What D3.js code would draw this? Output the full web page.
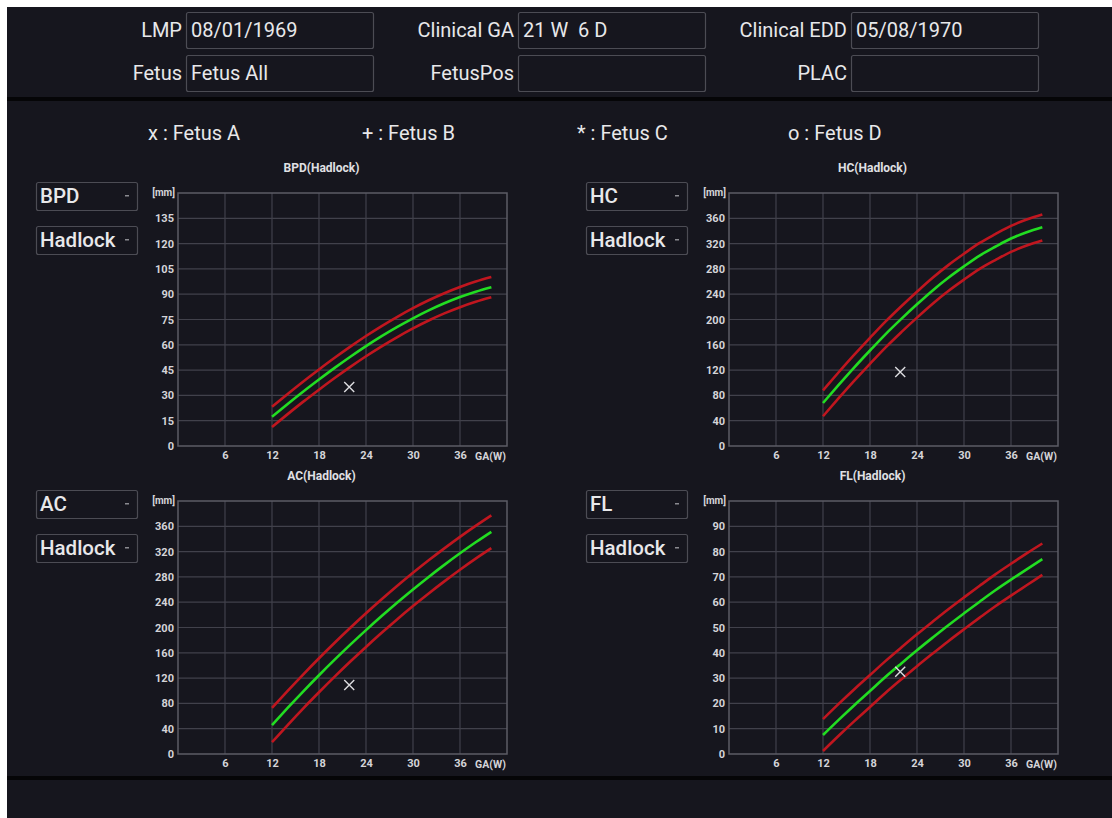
<!DOCTYPE html>
<html><head><meta charset="utf-8">
<script src="https://cdn.jsdelivr.net/npm/d3@7"></script>
<style>
html,body{margin:0;padding:0;background:#fff;}
svg{display:block;font-family:Roboto,"Noto Sans",sans-serif;}
text{white-space:pre;}
</style></head>
<body>
<svg id="c" width="1112" height="818"></svg>
<script>
// ---- data ----
const weeks = [12,14,16,18,20,22,24,26,28,30,32,34,36,38,40];
const bpdMean  = [17.3,24.9,32.3,39.4,46.3,52.9,59.2,65.1,70.6,75.7,80.4,84.6,88.3,91.5,94.2];
const bpdUpper = [23.3,30.9,38.3,45.4,52.3,58.9,65.2,71.1,76.6,81.7,86.4,90.6,94.3,97.5,100.2];
const bpdLower = [11.3,18.9,26.3,33.4,40.3,46.9,53.2,59.1,64.6,69.7,74.4,78.6,82.3,85.5,88.2];
const hcMean   = [68,96.6,124.4,151,177,201,224,246,266,284,301,315,328,338,346];
const hcUpper  = [88,116.6,144.4,171,197,221,244,266,286,304,321,335,348,358,366];
const hcLower  = [47,75.6,103.4,130,156,180,203,225,245,263,280,294,307,317,325];
const acMean   = [45.8,72.8,99.1,124.5,149.1,172.9,195.9,218.1,239.6,260.2,280,299,317.3,334.7,351.3];
const acUpper  = [73,99.8,126,151.4,175.9,199.6,222.5,244.6,266,286.5,306.2,325.1,343.3,360.6,377.2];
const acLower  = [18.6,45.8,72.2,97.6,122.3,146.2,169.3,191.6,213.2,233.9,253.8,272.9,291.3,308.8,325.4];
const flMean   = [7.5,13.5,19.3,24.9,30.5,35.8,41,46,50.9,55.6,60.2,64.7,68.9,73,77];
const flUpper  = [13.8,19.8,25.6,31.2,36.8,42.1,47.3,52.3,57.2,61.9,66.5,71,75.2,79.3,83.2];
const flLower  = [1.2,7.2,13,18.6,24.2,29.5,34.7,39.7,44.6,49.3,53.9,58.4,62.6,66.7,70.8];
const bpdTicks = [0,15,30,45,60,75,90,105,120,135];
const hcTicks  = [0,40,80,120,160,200,240,280,320,360];
const acTicks  = [0,40,80,120,160,200,240,280,320,360];
const flTicks  = [0,10,20,30,40,50,60,70,80,90];
const xTicks   = [6,12,18,24,30,36];
const fetusA_GA = 21.86;
const fetusA = {bpd:35, hc:117, ac:109, fl:32.5};
const headerLabels = [["LMP","08/01/1969"],["Clinical GA","21 W  6 D"],["Clinical EDD","05/08/1970"],
                      ["Fetus","Fetus All"],["FetusPos",""],["PLAC",""]];
const legendItems = ["x : Fetus A","+ : Fetus B","* : Fetus C","o : Fetus D"];

// ---- drawing ----
const svg = d3.select("#c");
const BG = "#16161e";
const TXT = "#e8e8ea";
svg.append("rect").attr("x",7).attr("y",7).attr("width",1105).attr("height",811).attr("fill",BG);
svg.append("rect").attr("x",7).attr("y",97).attr("width",1105).attr("height",4).attr("fill","#050507");
svg.append("rect").attr("x",7).attr("y",776).attr("width",1105).attr("height",4).attr("fill","#050507");

// header
const colX = [186,518,851], rowY = [12,55];
headerLabels.forEach((d,i)=>{
  const cx = colX[i%3], cy = rowY[Math.floor(i/3)];
  svg.append("text").attr("x",cx-4).attr("y",cy+25).attr("text-anchor","end")
    .attr("fill",TXT).attr("font-size",20).text(d[0]);
  svg.append("rect").attr("x",cx+0.5).attr("y",cy+0.5).attr("width",187).attr("height",36).attr("rx",2)
    .attr("fill",BG).attr("stroke","#4c4c54").attr("stroke-width",1.2);
  svg.append("text").attr("x",cx+5).attr("y",cy+25).attr("fill",TXT).attr("font-size",20).text(d[1]);
});

// legend
const legX = [148,362,577,788];
legendItems.forEach((t,i)=>{
  svg.append("text").attr("x",legX[i]).attr("y",140).attr("fill",TXT).attr("font-size",20).text(t);
});

function dropdown(x,y,label){
  svg.append("rect").attr("x",x+0.5).attr("y",y+0.5).attr("width",101).attr("height",28).attr("rx",2)
    .attr("fill",BG).attr("stroke","#4c4c54").attr("stroke-width",1.2);
  svg.append("text").attr("x",x+4).attr("y",y+21).attr("fill",TXT).attr("font-size",20.5)
    .attr("font-weight",500).text(label);
  svg.append("rect").attr("x",x+89).attr("y",y+13).attr("width",4).attr("height",1.5).attr("fill","#8a8a90");
}

function chart(cfg){
  const x = d3.scaleLinear().domain([0,42]).range([cfg.px, cfg.px+329]);
  const y = d3.scaleLinear().domain([0,cfg.ymax]).range([cfg.py+253, cfg.py]);
  const g = svg.append("g");
  g.selectAll(".gy").data(cfg.yTicks.slice(1)).join("line")
    .attr("x1",x(0)).attr("x2",x(42)).attr("y1",d=>y(d)).attr("y2",d=>y(d))
    .attr("stroke","#41414b").attr("stroke-width",1.2);
  g.selectAll(".gx").data(xTicks).join("line")
    .attr("x1",d=>x(d)).attr("x2",d=>x(d)).attr("y1",y(0)).attr("y2",y(cfg.ymax))
    .attr("stroke","#41414b").attr("stroke-width",1.2);
  g.append("rect").attr("x",x(0)).attr("y",y(cfg.ymax)).attr("width",x(42)-x(0)).attr("height",y(0)-y(cfg.ymax))
    .attr("fill","none").attr("stroke","#5c5c66").attr("stroke-width",1.5);
  const ya = d3.axisLeft(y).tickValues(cfg.yTicks).tickSize(0).tickPadding(4);
  const yg = g.append("g").attr("transform",`translate(${x(0)},0)`).call(ya);
  yg.select(".domain").remove();
  yg.selectAll("text").attr("fill","#d4d4d8").attr("font-size",11).attr("font-weight","bold")
    .attr("font-family","Roboto,sans-serif");
  const xa = d3.axisBottom(x).tickValues(xTicks).tickSize(0).tickPadding(5);
  const xg = g.append("g").attr("transform",`translate(0,${y(0)})`).call(xa);
  xg.select(".domain").remove();
  xg.selectAll("text").attr("fill","#d4d4d8").attr("font-size",11).attr("font-weight","bold")
    .attr("font-family","Roboto,sans-serif");
  g.append("text").attr("x",x(42)-1).attr("y",y(0)+13.5).attr("text-anchor","end")
    .attr("fill","#d4d4d8").attr("font-size",10.5).attr("font-weight","bold").text("GA(W)");
  g.append("text").attr("x",x(0)-3).attr("y",y(cfg.ymax)+3).attr("text-anchor","end")
    .attr("fill","#d4d4d8").attr("font-size",10).attr("font-weight","bold").text("[mm]");
  g.append("text").attr("x",(x(0)+x(42))/2-21).attr("y",cfg.py-21).attr("text-anchor","middle")
    .attr("fill","#e0e0e4").attr("font-size",12).attr("font-weight","bold").text(cfg.title);
  const line = d3.line().x((d,i)=>x(weeks[i])).y(d=>y(d)).curve(d3.curveMonotoneX);
  [[cfg.upper,"#c0161f"],[cfg.lower,"#c0161f"],[cfg.mean,"#22dd22"]].forEach(([arr,col])=>{
    g.append("path").attr("d",line(arr)).attr("fill","none").attr("stroke",col).attr("stroke-width",2.6);
  });
  const mx = x(fetusA_GA), my = y(cfg.marker), s = 5;
  g.append("path").attr("d",`M${mx-s},${my-s}L${mx+s},${my+s}M${mx-s},${my+s}L${mx+s},${my-s}`)
    .attr("stroke","#dcdce0").attr("stroke-width",1.4);
  dropdown(cfg.dx, cfg.py-11, cfg.name);
  dropdown(cfg.dx, cfg.py+33, "Hadlock");
}

chart({px:178, py:193, ymax:150, yTicks:bpdTicks, title:"BPD(Hadlock)", name:"BPD", dx:36,
       mean:bpdMean, upper:bpdUpper, lower:bpdLower, marker:fetusA.bpd});
chart({px:729, py:193, ymax:400, yTicks:hcTicks, title:"HC(Hadlock)", name:"HC", dx:586,
       mean:hcMean, upper:hcUpper, lower:hcLower, marker:fetusA.hc});
chart({px:178, py:501, ymax:400, yTicks:acTicks, title:"AC(Hadlock)", name:"AC", dx:36,
       mean:acMean, upper:acUpper, lower:acLower, marker:fetusA.ac});
chart({px:729, py:501, ymax:100, yTicks:flTicks, title:"FL(Hadlock)", name:"FL", dx:586,
       mean:flMean, upper:flUpper, lower:flLower, marker:fetusA.fl});
</script>
</body></html>
